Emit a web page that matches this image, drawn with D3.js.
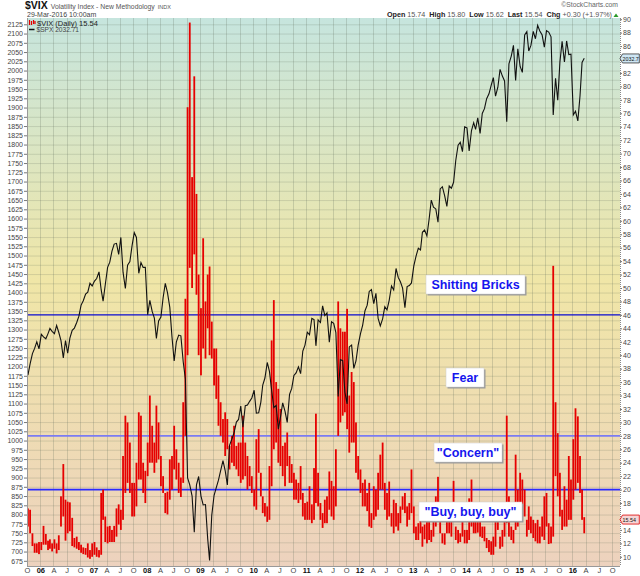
<!DOCTYPE html>
<html>
<head>
<meta charset="utf-8">
<script src="https://cdn.jsdelivr.net/npm/d3@7"></script>
<style>
  body { margin: 0; background: #fff; }
  text { font-family: "Liberation Sans", Arial, sans-serif; }
</style>
</head>
<body>
<script>
// Half-month readings, first half then second half of each month, Oct 2005 .. Mar 2016
var startYear = 2005, startMonth = 9;

// S&P 500 ($SPX), left scale
var spx = [
  1177,1207, 1235,1249, 1267,1248,
  1287,1280, 1275,1289, 1303,1295, 1289,1311, 1292,1270, 1223,1270, 1236,1277, 1298,1304, 1319,1336, 1366,1378, 1396,1401, 1425,1418,
  1431,1438, 1456,1407, 1377,1421, 1468,1482, 1512,1531, 1533,1503, 1549,1455, 1411,1474, 1484,1527, 1562,1549, 1452,1481, 1468,1468,
  1340,1379, 1349,1331, 1276,1323, 1334,1386, 1425,1400, 1360,1280, 1215,1267, 1285,1283, 1213,1166, 899,880, 850,752, 880,903,
  850,826, 827,735, 676,798, 852,873, 893,919, 946,919, 880,987, 1004,1021, 1050,1057, 1093,1036, 1094,1096, 1106,1115,
  1136,1074, 1075,1104, 1150,1169, 1211,1187, 1136,1089, 1095,1031, 1064,1102, 1079,1049, 1125,1141, 1176,1183, 1199,1181, 1242,1258,
  1293,1286, 1330,1327, 1256,1326, 1319,1364, 1338,1345, 1266,1321, 1317,1292, 1119,1219, 1216,1131, 1099,1253, 1258,1195, 1215,1258,
  1289,1312, 1351,1366, 1403,1408, 1370,1398, 1330,1310, 1329,1362, 1353,1379, 1418,1407, 1465,1441, 1429,1412, 1359,1416, 1419,1426,
  1472,1498, 1520,1515, 1563,1569, 1553,1598, 1650,1631, 1626,1590, 1680,1686, 1661,1633, 1688,1682, 1698,1757, 1798,1806, 1781,1848,
  1845,1783, 1838,1859, 1841,1872, 1830,1884, 1897,1924, 1937,1960, 1981,1931, 1955,2003, 1985,1972, 1862,2018, 2039,2068, 1973,2059,
  2011,1995, 2096,2105, 2053,2068, 2106,2086, 2122,2107, 2096,2063, 2108,2104, 2091,1880, 1979,1920, 2023,2079, 2023,2080, 2043,2044,
  1880,1890, 1864,1932, 2022,2033
];

// VIX low / high in each half month, right scale
var vixLo = [
  14.5,13.5, 11.6,10.6, 10.6,10.4,
  11.0,11.8, 11.8,11.0, 11.2,10.8, 11.2,10.5, 11.0,14.5, 16.0,12.4, 13.5,13.8, 11.6,11.4, 11.2,11.0, 10.6,10.4, 10.3,9.9, 9.7,10.0,
  10.3,10.0, 9.9,10.3, 15.5,12.2, 12.0,12.2, 12.2,12.2, 13.0,14.8, 14.0,15.5, 19.5,21.0, 19.5,16.0, 16.0,17.5, 21.5,21.5, 19.5,18.0,
  22.0,24.0, 24.0,22.5, 24.0,24.5, 20.5,19.5, 16.5,16.3, 18.5,20.0, 23.0,21.5, 19.5,18.9, 21.0,28.0, 40.0,53.0, 50.0,55.0, 49.0,40.0,
  37.0,41.0, 39.5,44.0, 40.0,39.5, 35.5,33.5, 29.5,28.0, 27.0,25.0, 26.0,23.0, 24.0,23.5, 23.0,22.0, 21.0,21.5, 22.0,20.0, 20.5,19.5,
  17.5,17.0, 22.5,19.0, 16.5,16.0, 15.2,15.5, 20.5,26.0, 27.0,24.0, 23.5,22.0, 20.5,23.5, 21.0,21.0, 18.5,18.5, 18.0,18.5, 16.0,15.5,
  15.5,15.5, 15.0,15.5, 18.0,17.5, 15.5,14.3, 15.0,15.0, 17.0,16.0, 15.5,17.5, 28.0,30.0, 31.0,31.5, 29.0,25.5, 27.0,27.0, 22.5,21.5,
  19.5,17.5, 17.5,16.8, 14.5,14.3, 15.5,16.0, 17.0,20.0, 20.0,17.0, 15.5,16.0, 14.5,13.5, 14.5,13.9, 15.0,17.0, 16.5,14.5, 15.5,16.5,
  13.5,12.5, 12.5,13.5, 11.5,12.6, 12.0,12.5, 12.2,13.0, 14.5,16.0, 13.5,12.0, 11.8,13.5, 13.5,13.0, 15.5,12.5, 12.0,12.2, 13.0,12.0,
  12.0,12.5, 14.5,13.5, 13.5,13.6, 13.0,12.8, 12.3,11.3, 10.7,10.3, 10.3,11.5, 14.0,11.2, 11.5,13.0, 15.0,13.0, 12.5,12.0, 14.0,14.5,
  17.5,16.0, 16.0,13.0, 14.0,13.5, 12.8,12.3, 12.0,12.0, 13.0,12.5, 14.5,11.9, 12.0,13.0, 22.0,19.0, 16.0,14.0, 14.5,14.5, 15.5,15.5,
  18.5,20.0, 21.0,19.5, 15.5,13.5
];
var vixHi = [
  17.2,17.0, 13.5,12.0, 12.0,12.2,
  12.2,14.6, 13.4,12.4, 12.6,12.0, 12.6,12.0, 13.2,19.0, 23.8,18.5, 18.2,18.1, 15.8,12.8, 13.0,12.2, 11.8,11.4, 11.3,12.0, 11.0,12.0,
  12.2,11.4, 11.0,19.5, 20.0,16.0, 14.5,14.6, 14.0,14.6, 17.2,17.8, 17.0,25.0, 31.0,30.0, 27.0,21.0, 21.0,24.0, 31.5,31.0, 24.0,22.8,
  27.0,34.0, 29.5,27.0, 32.5,30.0, 25.0,22.0, 19.5,19.7, 24.5,25.0, 29.5,26.0, 24.0,21.8, 33.0,48.4, 76.9,89.5, 66.5,81.5, 64.0,52.0,
  47.0,57.4, 48.0,52.0, 53.2,45.0, 41.0,41.0, 37.0,33.0, 30.5,31.5, 30.5,26.5, 28.0,29.5, 26.5,27.0, 27.0,31.0, 27.0,25.0, 23.5,22.0,
  20.0,27.5, 29.0,22.5, 19.0,18.0, 17.5,23.5, 42.2,48.2, 36.0,35.0, 32.0,26.5, 27.0,28.5, 25.0,23.8, 22.5,21.5, 21.0,23.5, 19.5,18.0,
  18.2,20.5, 17.8,23.2, 31.3,22.5, 18.0,16.5, 18.5,19.0, 22.7,21.3, 20.5,26.0, 48.0,44.0, 43.5,43.5, 46.9,34.0, 37.5,36.0, 30.0,25.0,
  23.0,21.0, 21.5,19.5, 21.0,16.5, 20.5,20.0, 22.5,25.2, 27.0,21.0, 19.5,21.2, 16.5,18.5, 18.0,16.5, 17.5,19.0, 19.5,17.5, 18.0,23.0,
  17.5,14.5, 15.0,16.7, 14.5,14.8, 17.6,15.5, 14.0,17.0, 19.0,21.9, 17.0,13.5, 13.5,17.1, 17.0,16.5, 21.3,14.5, 14.0,13.5, 16.3,14.0,
  14.0,18.7, 21.5,16.5, 17.8,16.0, 18.0,14.5, 14.5,12.8, 12.5,12.3, 13.0,17.0, 17.2,13.0, 14.0,16.5, 31.0,19.0, 14.5,14.0, 25.2,20.0,
  22.5,21.5, 20.0,15.5, 17.5,16.0, 15.5,15.0, 15.5,14.5, 16.0,19.0, 19.5,15.0, 14.5,53.3, 33.0,28.4, 22.5,17.0, 20.5,18.5, 25.0,21.5,
  27.5,32.1, 30.9,25.0, 20.0,15.9
];

// sentiment levels on the VIX scale
var levels = [46, 28, 20];
var leftTicks = d3.range(675, 2126, 25);
var rightTicks = d3.range(10, 91, 2);
var lastVix = 15.54, lastSpx = 2032.71;

var W = 640, H = 576;
var plot = {left: 27, right: 620, top: 18, bottom: 566};

// date of each half-month reading
var dates = spx.map(function(v, i) {
  return new Date(startYear, startMonth + Math.floor(i / 2), i % 2 ? 23 : 8);
});

var x = d3.scaleTime()
    .domain([new Date(2006, 0, 1), new Date(2016, 0, 1)])
    .range([40.3, 572.3]);
var yL = d3.scaleLinear().domain([675, 2125]).range([560.8, 24.3]);
var yR = d3.scaleLinear().domain([10, 90]).range([556.8, 19.2]);

var svg = d3.select("body").append("svg")
    .attr("width", W)
    .attr("height", H);

// background gradient
var defs = svg.append("defs");
var grad = defs.append("linearGradient")
    .attr("id", "bg").attr("x1", 0).attr("y1", 0).attr("x2", 0).attr("y2", 1);
grad.append("stop").attr("offset", "0%").attr("stop-color", "#c6e5de");
grad.append("stop").attr("offset", "48%").attr("stop-color", "#f0e6a7");
grad.append("stop").attr("offset", "100%").attr("stop-color", "#edd2be");
defs.append("clipPath").attr("id", "clip").append("rect")
    .attr("x", plot.left).attr("y", plot.top)
    .attr("width", plot.right - plot.left).attr("height", plot.bottom - plot.top);

svg.append("rect")
    .attr("x", plot.left).attr("y", plot.top)
    .attr("width", plot.right - plot.left).attr("height", plot.bottom - plot.top)
    .attr("fill", "url(#bg)");

// grid
var quarters = d3.timeMonth.every(3).range(new Date(2005, 9, 1), new Date(2016, 9, 2));
var grid = svg.append("g").attr("clip-path", "url(#clip)");
grid.selectAll(".hg").data(leftTicks).enter().append("line")
    .attr("x1", plot.left).attr("x2", plot.right)
    .attr("y1", function(d) { return yL(d) + 0.5; })
    .attr("y2", function(d) { return yL(d) + 0.5; })
    .attr("stroke", "rgba(95,110,90,0.2)");
grid.selectAll(".vg").data(quarters).enter().append("line")
    .attr("y1", plot.top).attr("y2", plot.bottom)
    .attr("x1", function(d) { return Math.round(x(d)) + 0.5; })
    .attr("x2", function(d) { return Math.round(x(d)) + 0.5; })
    .attr("stroke", "rgba(95,110,90,0.24)");

// sentiment level lines
var levelColors = ["#0a0ad0", "#7b7bf2", "#2a2aff"];
var levelWidths = [1.2, 1.6, 1.6];
svg.selectAll(".lvl").data(levels).enter().append("line")
    .attr("x1", plot.left).attr("x2", plot.right)
    .attr("y1", function(d) { return yR(d); })
    .attr("y2", function(d) { return yR(d); })
    .attr("stroke", function(d, i) { return levelColors[i]; })
    .attr("stroke-width", function(d, i) { return levelWidths[i]; });

// VIX high-low bars
var marks = svg.append("g").attr("clip-path", "url(#clip)");
marks.selectAll(".vbar").data(dates).enter().append("rect")
    .attr("x", function(d) { return x(d) - 0.9; })
    .attr("width", 1.8)
    .attr("y", function(d, i) { return yR(vixHi[i]); })
    .attr("height", function(d, i) { return yR(vixLo[i]) - yR(vixHi[i]); })
    .attr("fill", "#e60000");

// SPX line
var line = d3.line()
    .x(function(d, i) { return x(dates[i]); })
    .y(function(d) { return yL(d); });
marks.append("path")
    .datum(spx)
    .attr("d", line)
    .attr("fill", "none")
    .attr("stroke", "#111")
    .attr("stroke-width", 1.1);

// annotations
var notes = [
  {text: "Shitting Bricks", x: 426, y: 275, w: 99},
  {text: "Fear", x: 446, y: 368, w: 38},
  {text: "\"Concern\"", x: 434, y: 443, w: 68},
  {text: "\"Buy, buy, buy\"", x: 419, y: 502, w: 103}
];
var ng = svg.selectAll(".note").data(notes).enter().append("g");
ng.append("rect")
    .attr("x", function(d) { return d.x + 1.5; }).attr("y", function(d) { return d.y + 1.5; })
    .attr("width", function(d) { return d.w; }).attr("height", 19)
    .attr("fill", "#999");
ng.append("rect")
    .attr("x", function(d) { return d.x; }).attr("y", function(d) { return d.y; })
    .attr("width", function(d) { return d.w; }).attr("height", 19)
    .attr("fill", "#fff").attr("stroke", "#ccc").attr("stroke-width", 0.5);
ng.append("text")
    .attr("x", function(d) { return d.x + d.w / 2; })
    .attr("y", function(d) { return d.y + 14; })
    .attr("text-anchor", "middle")
    .style("font-size", "12.5px").style("font-weight", "bold")
    .attr("fill", "#1515ee")
    .text(function(d) { return d.text; });

// axes; right-hand labels hidden where the last-value tags cover them
var tagYs = [yL(lastSpx), yR(lastVix)];
var axL = svg.append("g")
    .attr("transform", "translate(" + plot.left + ",0)")
    .call(d3.axisLeft(yL).tickValues(leftTicks).tickSize(3).tickPadding(1).tickFormat(d3.format("d")));
var axR = svg.append("g")
    .attr("transform", "translate(" + plot.right + ",0)")
    .call(d3.axisRight(yR).tickValues(rightTicks.filter(function(v) {
      return tagYs.every(function(t) { return Math.abs(yR(v) - t) > 6; });
    })).tickSize(2).tickPadding(1));
var axB = svg.append("g")
    .attr("transform", "translate(0," + plot.bottom + ")")
    .call(d3.axisBottom(x).tickValues(quarters).tickSize(0).tickPadding(2)
      .tickFormat(function(d) {
        return d.getMonth() === 0 ? d3.timeFormat("%y")(d) : d3.timeFormat("%b")(d).charAt(0);
      }));
[axL, axR, axB].forEach(function(ax) {
  ax.select(".domain").remove();
  ax.selectAll("line").attr("stroke", "#777");
  ax.selectAll("text").style("font-size", "7px").attr("fill", "#444");
});
axB.selectAll("text")
    .style("font-size", "7.5px")
    .style("font-weight", function(d) { return d.getMonth() === 0 ? "bold" : "normal"; })
    .attr("fill", function(d) { return d.getMonth() === 0 ? "#111" : "#444"; });

// plot frame
svg.append("line").attr("x1", plot.left + 0.5).attr("x2", plot.left + 0.5)
    .attr("y1", plot.top).attr("y2", plot.bottom).attr("stroke", "#999");
svg.append("line").attr("x1", plot.left).attr("x2", plot.right)
    .attr("y1", plot.bottom + 0.5).attr("y2", plot.bottom + 0.5).attr("stroke", "#999");
svg.append("line").attr("x1", plot.right + 0.5).attr("x2", plot.right + 0.5)
    .attr("y1", plot.top).attr("y2", plot.bottom)
    .attr("stroke", "#888").attr("stroke-dasharray", "1,1");

// last value tags on the right
function tag(y, label, fill, stroke) {
  var g = svg.append("g");
  g.append("path")
    .attr("d", "M" + plot.right + "," + y + "l2.5,-4.5h16.8v9h-16.8z")
    .attr("fill", fill).attr("stroke", stroke).attr("stroke-width", 0.8);
  g.append("text").attr("x", plot.right + 2.6).attr("y", y + 2.1)
    .style("font-size", "5.3px").attr("fill", "#111").text(label);
}
tag(yL(lastSpx), "2032.7", "#cfe6f4", "#333");
tag(yR(lastVix), "15.54", "#f5d6d6", "#d00");

// header
var head = svg.append("text").attr("x", 25).attr("y", 9);
head.append("tspan").style("font-size", "10.5px").style("font-weight", "bold").attr("fill", "#111").text("$VIX");
head.append("tspan").attr("dx", 3).style("font-size", "6.8px").attr("fill", "#555").text("Volatility Index - New Methodology");
head.append("tspan").attr("dx", 3).style("font-size", "5.5px").attr("fill", "#555").text("INDX");
svg.append("text").attr("x", 27).attr("y", 16.8)
    .style("font-size", "7px").attr("fill", "#444").text("29-Mar-2016 10:00am");

svg.append("text").attr("x", 618).attr("y", 7.2).attr("text-anchor", "end")
    .style("font-size", "6.8px").attr("fill", "#666").text("\u00a9StockCharts.com");
var stats = [["Open", "15.74"], ["High", "15.80"], ["Low", "15.62"], ["Last", "15.54"], ["Chg", "+0.30 (+1.97%)"]];
var st = svg.append("text").attr("x", 612).attr("y", 16.8).attr("text-anchor", "end")
    .style("font-size", "7.2px");
stats.forEach(function(s, i) {
  st.append("tspan").attr("dx", i ? 4 : 0).style("font-weight", "bold").attr("fill", "#222").text(s[0]);
  st.append("tspan").attr("dx", 2).attr("fill", "#555").text(s[1]);
});
svg.append("path").attr("d", "M613.5,17l2.5,-3.5l2.5,3.5z").attr("fill", "#2a9a2a");

// legend
svg.append("path").attr("d", "M29.5,20v5M31.5,21v4M33.5,20v4M35,21v3")
    .attr("stroke", "#e00000").attr("stroke-width", 1.2);
svg.append("text").attr("x", 37).attr("y", 25.5)
    .style("font-size", "7.5px").attr("fill", "#222").text("$VIX (Daily) 15.54");
svg.append("line").attr("x1", 29).attr("x2", 34.5).attr("y1", 29.5).attr("y2", 29.5)
    .attr("stroke", "#111").attr("stroke-width", 1.5);
svg.append("text").attr("x", 36.5).attr("y", 32)
    .style("font-size", "6.6px").attr("fill", "#444").text("$SPX 2032.71");
</script>
</body>
</html>
